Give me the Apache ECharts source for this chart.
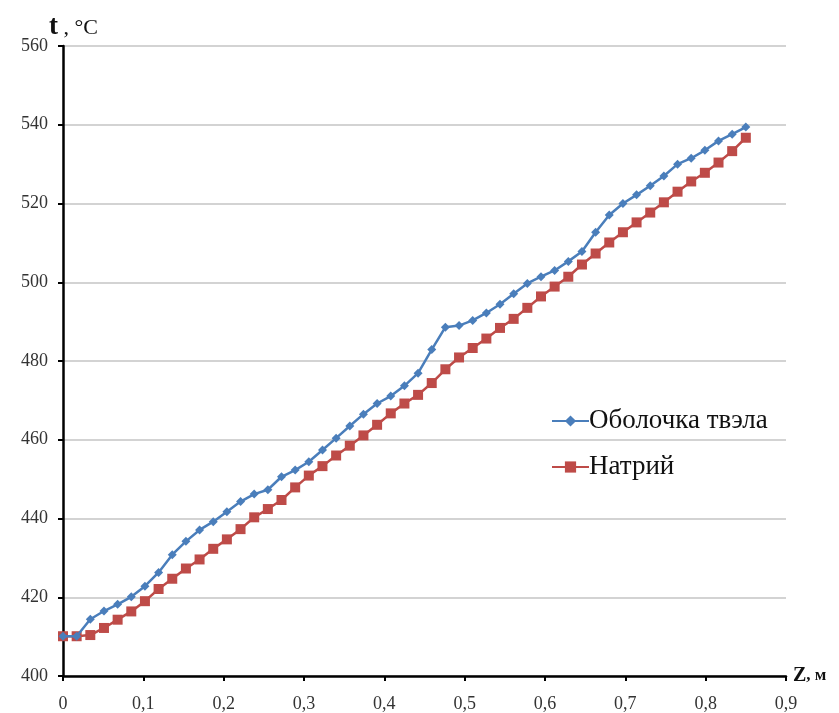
<!DOCTYPE html>
<html>
<head>
<meta charset="utf-8">
<script src="https://cdn.jsdelivr.net/npm/echarts@6/dist/echarts.min.js"></script>
<style>
  html, body { margin: 0; padding: 0; background: #fff; }
  #chart { width: 839px; height: 713px; }
</style>
</head>
<body>
<div id="chart"></div>
<script>
// Axial coordinate along the fuel pin, m
const zValues = [
  0, 0.017, 0.034, 0.051, 0.068, 0.085, 0.102, 0.119, 0.136, 0.153,
  0.170, 0.187, 0.204, 0.221, 0.238, 0.255, 0.272, 0.289, 0.306, 0.323,
  0.340, 0.357, 0.374, 0.391, 0.408, 0.425, 0.442, 0.459, 0.476, 0.493,
  0.510, 0.527, 0.544, 0.561, 0.578, 0.595, 0.612, 0.629, 0.646, 0.663,
  0.680, 0.697, 0.714, 0.731, 0.748, 0.765, 0.782, 0.799, 0.816, 0.833,
  0.850
];

// Cladding temperature, °C
const claddingTemp = [
  410.1, 410.1, 414.4, 416.5, 418.2, 420.1, 422.8, 426.3, 430.8, 434.2,
  437.1, 439.2, 441.7, 444.3, 446.2, 447.3, 450.6, 452.3, 454.4, 457.4,
  460.4, 463.5, 466.5, 469.2, 471.1, 473.7, 476.9, 482.9, 488.6, 489.0,
  490.3, 492.2, 494.4, 497.1, 499.7, 501.4, 503.0, 505.3, 507.8, 512.7,
  517.1, 520.0, 522.2, 524.5, 527.0, 530.0, 531.5, 533.5, 535.9, 537.6,
  539.4
];

// Sodium coolant temperature, °C
const sodiumTemp = [
  410.1, 410.1, 410.4, 412.2, 414.3, 416.4, 419.0, 422.1, 424.7, 427.3,
  429.6, 432.3, 434.7, 437.3, 440.3, 442.4, 444.7, 447.9, 450.9, 453.3,
  456.0, 458.5, 461.1, 463.8, 466.7, 469.2, 471.4, 474.4, 477.9, 480.9,
  483.3, 485.7, 488.4, 490.7, 493.5, 496.4, 498.9, 501.4, 504.5, 507.3,
  510.1, 512.7, 515.2, 517.7, 520.3, 523.0, 525.6, 527.8, 530.4, 533.3,
  536.7
];

const seriesNames = ['Оболочка твэла', 'Натрий'];

const FONT = '"Liberation Serif", "Times New Roman", serif';
const pairs = (ys) => zValues.map((z, i) => [z, ys[i]]);

const chart = echarts.init(document.getElementById('chart'), null, { renderer: 'canvas' });

chart.setOption({
  animation: false,
  backgroundColor: '#ffffff',
  textStyle: { fontFamily: FONT },
  title: {
    text: '{b|t}{r| , °C}',
    left: 44,
    top: 6,
    textStyle: {
      rich: {
        b: { fontFamily: FONT, fontSize: 27, fontWeight: 'bold', color: '#111', lineHeight: 32, verticalAlign: 'middle' },
        r: { fontFamily: FONT, fontSize: 22, fontWeight: 'normal', color: '#111', lineHeight: 32, verticalAlign: 'middle', padding: [2, 0, 0, 0] }
      }
    }
  },
  grid: { left: 63, right: 53, top: 46, bottom: 36, containLabel: false },
  legend: {
    left: 546,
    top: 401,
    orient: 'vertical',
    itemWidth: 37,
    itemHeight: 14,
    itemGap: 16,
    textStyle: { fontFamily: FONT, fontSize: 27, lineHeight: 30, color: '#111', padding: [0, 0, 0, -5] },
    data: seriesNames
  },
  xAxis: {
    type: 'value',
    min: 0,
    max: 0.9,
    interval: 0.1,
    name: '{b|Z}, м',
    nameLocation: 'end',
    nameGap: 7,
    nameTextStyle: {
      fontFamily: FONT,
      fontSize: 17,
      fontWeight: 'bold',
      color: '#111',
      verticalAlign: 'middle',
      rich: { b: { fontFamily: FONT, fontSize: 20, fontWeight: 'bold', color: '#111' } }
    },
    axisLine: { show: true, onZero: false, lineStyle: { color: '#000', width: 2.5 } },
    axisTick: { show: true, length: 5, inside: false, lineStyle: { color: '#000', width: 2 } },
    axisLabel: {
      fontFamily: FONT,
      fontSize: 18,
      color: '#333',
      margin: 19,
      formatter: (v) => v === 0 ? '0' : v.toFixed(1).replace('.', ',')
    },
    splitLine: { show: false }
  },
  yAxis: {
    type: 'value',
    min: 400,
    max: 560,
    interval: 20,
    axisLine: { show: true, onZero: false, lineStyle: { color: '#000', width: 2.5 } },
    axisTick: { show: true, length: 5, lineStyle: { color: '#000', width: 2 } },
    axisLabel: { fontFamily: FONT, fontSize: 18, color: '#333', margin: 15 },
    splitLine: { show: true, lineStyle: { color: '#c4c4c4', width: 1.5 } }
  },
  series: [
    {
      name: seriesNames[0],
      type: 'line',
      data: pairs(claddingTemp),
      symbol: 'diamond',
      symbolSize: 9,
      lineStyle: { color: '#4a7ebb', width: 2.5 },
      itemStyle: { color: '#4a7ebb' },
      z: 3
    },
    {
      name: seriesNames[1],
      type: 'line',
      data: pairs(sodiumTemp),
      symbol: 'rect',
      symbolSize: 10,
      lineStyle: { color: '#be4b48', width: 2.5 },
      itemStyle: { color: '#be4b48' },
      z: 2
    }
  ]
});
</script>
</body>
</html>
